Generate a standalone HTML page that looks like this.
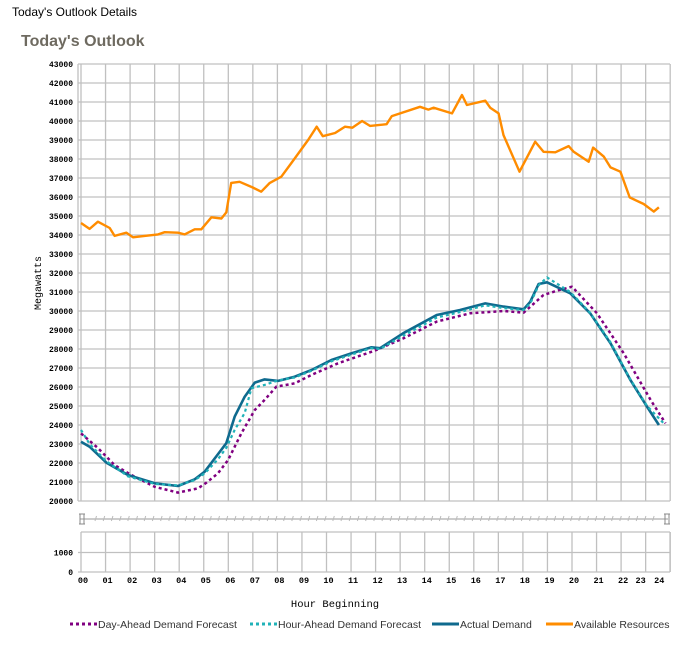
<!DOCTYPE html>
<html><head><meta charset="utf-8"><style>
body{margin:0;width:683px;height:656px;background:#fff;overflow:hidden;font-family:"Liberation Sans",sans-serif}
#hdr{position:absolute;left:12px;top:5px;font-size:12px;color:#000}
#ttl{position:absolute;left:21px;top:33px;font-size:16px;font-weight:bold;color:#6e6a60}
svg{position:absolute;left:0;top:0}
</style></head><body>
<div id="hdr">Today's Outlook Details</div>
<div id="ttl">Today's Outlook</div>
<svg id="c" width="683" height="656"></svg>
<script>
const availHours=[0,0.35,0.69,1.17,1.37,1.85,2.12,2.59,3.14,3.41,3.95,4.22,4.63,4.9,5.31,5.72,5.92,6.12,6.46,7.0,7.34,7.69,8.16,8.57,9.25,9.6,9.85,10.35,10.75,11.05,11.45,11.77,12.45,12.66,13.81,14.15,14.36,15.11,15.52,15.72,16.47,16.67,17.01,17.21,17.86,18.5,18.84,19.32,19.86,20.07,20.68,20.86,21.3,21.57,21.97,22.35,22.92,23.33,23.54];
const availValues=[34630,34320,34700,34370,33950,34120,33880,33950,34030,34150,34120,34030,34300,34300,34930,34870,35190,36740,36800,36500,36280,36740,37070,37790,39000,39700,39200,39370,39700,39650,40000,39740,39830,40260,40750,40600,40700,40400,41370,40840,41070,40700,40400,39260,37330,38910,38380,38350,38680,38380,37860,38600,38120,37560,37330,35980,35630,35230,35460];
const actHours=[0,0.35,1.03,1.91,3.0,3.95,4.63,5.04,5.58,5.92,6.26,6.67,7.08,7.48,8.03,8.7,9.38,10.2,11.01,11.83,12.18,13.13,14.49,15.44,16.47,17.21,18.03,18.3,18.64,18.98,19.93,20.74,21.57,22.38,23.06,23.54];
const actValues=[23120,22860,22020,21370,20930,20790,21140,21540,22470,23040,24440,25490,26230,26400,26320,26540,26890,27420,27770,28090,28040,28830,29790,30050,30400,30230,30090,30490,31420,31510,30930,29880,28300,26370,24960,24000];
const hourHours=[0,0.35,1.03,1.91,3.0,3.95,4.63,5.04,5.58,5.92,6.26,6.67,6.94,7.48,8.03,8.7,9.38,10.2,11.01,11.83,12.18,13.13,14.49,15.44,16.47,17.21,18.03,18.3,18.64,18.98,19.93,20.74,21.57,22.38,23.06,23.8];
const hourValues=[23740,23000,22100,21300,20900,20820,21100,21450,22200,22800,23740,24630,25930,26110,26350,26500,26850,27350,27700,28050,28000,28700,29650,29950,30300,30150,30050,30400,31350,31770,31000,29900,28350,26400,25000,24000];
const dayHours=[0,0.69,1.37,2.05,3.0,3.95,4.77,5.11,5.58,5.99,6.53,7.08,7.48,7.96,8.7,9.38,10.47,11.96,13.13,14.49,15.85,17.21,18.03,18.84,19.39,20.0,21.02,22.11,23.2,23.81];
const dayValues=[23560,22790,21890,21370,20750,20440,20670,20970,21460,22160,23560,24790,25320,26020,26190,26630,27250,27910,28560,29440,29880,30000,29910,30840,31070,31280,29880,27770,25320,24090];
const yTicks=[20000,21000,22000,23000,24000,25000,26000,27000,28000,29000,30000,31000,32000,33000,34000,35000,36000,37000,38000,39000,40000,41000,42000,43000];
const xTicks=["00","01","02","03","04","05","06","07","08","09","10","11","12","13","14","15","16","17","18","19","20","21","22","23","24"];
const lowTicks=[0,1000];

const S=document.getElementById('c'),NS="http://www.w3.org/2000/svg";
const X0=81,XW=24.55,Y0=64,Y1=501,VMIN=20000,VMAX=43000;
const xs=h=>X0+h*XW;
const ys=v=>Y0+(VMAX-v)/(VMAX-VMIN)*(Y1-Y0);
const ly=v=>572-v/1000*19.5;
function mk(t,a,p){const e=document.createElementNS(NS,t);for(const k in a)e.setAttribute(k,a[k]);(p||S).appendChild(e);return e;}
const grid=mk('g',{});


yTicks.forEach(v=>{
  mk('line',{x1:78,x2:670,y1:ys(v),y2:ys(v),stroke:'#c0c0c0','stroke-width':1.3},grid);
  const t=mk('text',{x:73,y:ys(v)+3,'text-anchor':'end','font-family':'Liberation Mono, monospace','font-size':8,'font-weight':'bold',fill:'#000'});
  t.textContent=v;
  
  
});
xTicks.forEach((l,i)=>{
  const x=xs(i);
  mk('line',{x1:x,x2:x,y1:Y0,y2:Y1,stroke:'#c0c0c0','stroke-width':1.3},grid);
  mk('line',{x1:x,x2:x,y1:532,y2:572,stroke:'#c0c0c0','stroke-width':1.3},grid);
  let tx=x+2; if(i==23)tx=x-5; if(i==24)tx=x-11;
  const t=mk('text',{x:tx,y:583,'text-anchor':'middle','font-family':'Liberation Mono, monospace','font-size':8.5,'font-weight':'bold',fill:'#000'});
  t.textContent=l;
  
  
});
mk('line',{x1:78,x2:78,y1:Y0,y2:Y1,stroke:'#c0c0c0','stroke-width':1.3},grid);
mk('line',{x1:670,x2:670,y1:532,y2:572,stroke:'#c0c0c0','stroke-width':1.3},grid);
mk('line',{x1:81,x2:670,y1:532,y2:532,stroke:'#c0c0c0','stroke-width':1.3},grid);
lowTicks.forEach(v=>{
  mk('line',{x1:78,x2:670,y1:ly(v),y2:ly(v),stroke:'#c0c0c0','stroke-width':1.3},grid);
  const t=mk('text',{x:73,y:ly(v)+3,'text-anchor':'end','font-family':'Liberation Mono, monospace','font-size':8,'font-weight':'bold',fill:'#000'});
  t.textContent=v;
  
  
});
const rs=mk('g',{});


mk('line',{x1:80,x2:668,y1:519,y2:519,stroke:'#999','stroke-width':1},rs);
for(let x=95;x<660;x+=8.2)mk('line',{x1:x,x2:x+1.5,y1:521,y2:516,stroke:'#bbb','stroke-width':1},rs);
[80,665].forEach(x=>{
  mk('path',{d:`M${x-1} 514H${x+5}M${x-1} 524H${x+5}M${x} 514V524M${x+4} 514V524`,stroke:'#888',fill:'none','stroke-width':1},rs);
});
const yt=mk('text',{transform:'translate(41,283) rotate(-90)','text-anchor':'middle','font-family':'Liberation Mono, monospace','font-size':10,fill:'#000'});
yt.textContent='Megawatts';


const xt=mk('text',{x:335,y:607,'text-anchor':'middle','font-family':'Liberation Mono, monospace','font-size':10.5,fill:'#000'});
xt.textContent='Hour Beginning';


function series(hs,vs,color,w,dash,name){
  const d=hs.map((h,i)=>(i?'L':'M')+xs(h).toFixed(1)+' '+ys(vs[i]).toFixed(1)).join('');
  const p=mk('path',{d:d,stroke:color,'stroke-width':w,fill:'none','stroke-linejoin':'round'});
  if(dash)p.setAttribute('stroke-dasharray',dash);
  
  
}
series(availHours,availValues,'#ff8c00',2.4,null,'available-resources-line');
series(dayHours,dayValues,'#800080',2.5,'3 3','day-ahead-forecast-line');
series(actHours,actValues,'#0f6a8e',2.6,null,'actual-demand-line');
series(hourHours,hourValues,'#20b2b8',2.2,'3 3','hour-ahead-forecast-line');
const lg=[['Day-Ahead Demand Forecast','#800080','3 3',70],['Hour-Ahead Demand Forecast','#20b2b8','3 3',250],['Actual Demand','#0f6a8e',null,432],['Available Resources','#ff8c00',null,546]];
lg.forEach(e=>{
  const g=mk('g',{});
  
  
  const l=mk('line',{x1:e[3],x2:e[3]+27,y1:624,y2:624,stroke:e[1],'stroke-width':3},g);
  if(e[2])l.setAttribute('stroke-dasharray',e[2]);
  const t=mk('text',{x:e[3]+28,y:628,'font-family':'Liberation Sans, sans-serif','font-size':10.5,fill:'#333'},g);
  t.textContent=e[0];
});
</script>
</body></html>
